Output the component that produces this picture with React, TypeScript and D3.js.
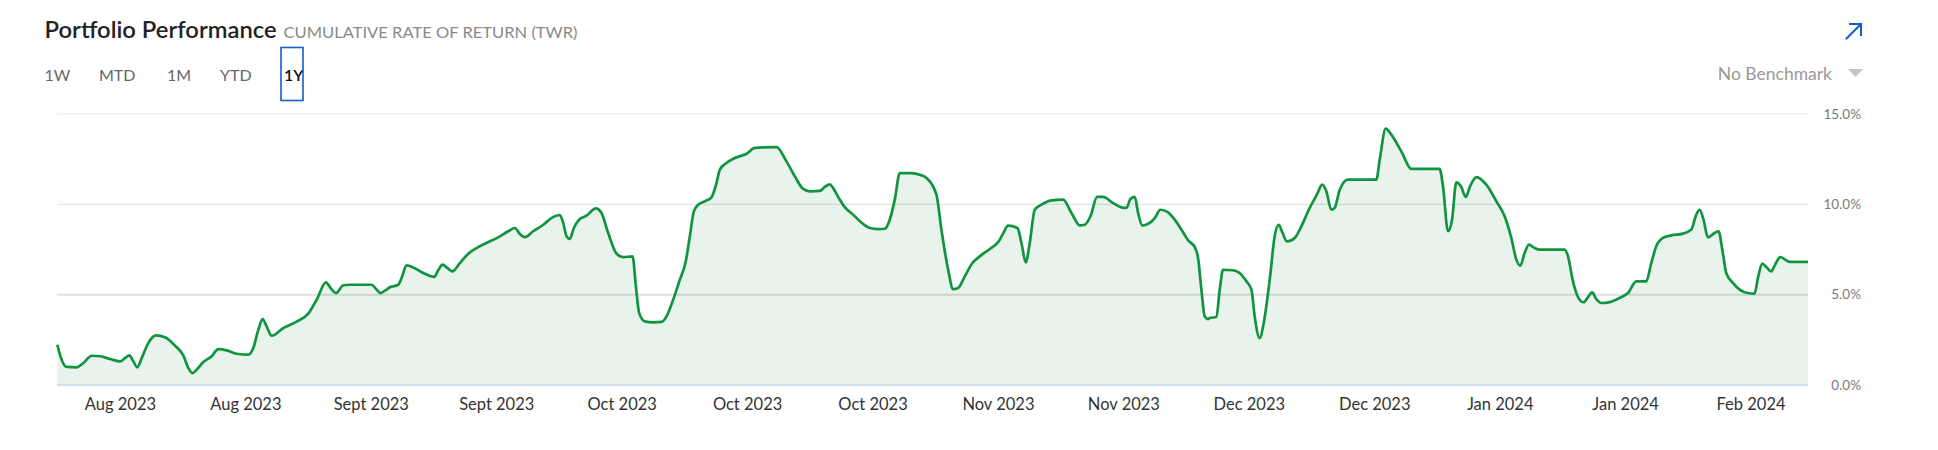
import React from 'react';
import * as d3 from 'd3';

// Day offsets from the start of the window (start ≈ 25 Jul 2023)
const days: number[] = [
  0.0, 0.52, 1.12, 2.32, 3.11, 4.11, 5.11, 6.3, 7.5, 8.1, 8.61, 9.09, 9.57, 10.09, 10.88, 11.8, 12.88, 14.07, 15.07, 15.67,
  16.14, 16.66, 17.46, 18.46, 19.25, 20.25, 21.45, 22.84, 23.44, 24.04, 24.55, 25.03, 25.63, 27.02, 28.62, 30.01, 31.01, 32.13, 32.68, 33.32,
  34.2, 35.0, 37.58, 38.18, 38.66, 39.18, 39.77, 40.77, 41.17, 41.77, 42.56, 43.76, 45.07, 45.55, 46.07, 46.63, 47.23, 48.14, 49.14, 50.14,
  51.33, 52.73, 53.92, 54.72, 55.32, 55.92, 56.91, 58.11, 59.1, 60.1, 60.5, 60.9, 61.29, 61.77, 62.41, 63.29, 64.4, 65.08, 65.88, 66.88,
  67.67, 68.8, 69.19, 69.58, 70.26, 71.26, 72.26, 72.85, 73.65, 74.45, 75.16, 75.64, 76.12, 76.64, 77.44, 78.23, 78.83, 79.23, 80.03, 81.02,
  82.42, 83.41, 86.0, 87.2, 88.2, 89.19, 89.99, 91.19, 91.78, 92.38, 92.78, 93.38, 94.17, 95.17, 96.37, 97.16, 98.16, 98.96, 99.55, 100.15,
  100.75, 102.15, 103.14, 103.94, 105.13, 105.73, 106.53, 107.13, 107.72, 108.52, 109.44, 110.31, 111.51, 112.59, 113.1, 113.7, 114.82, 115.3, 115.81, 116.29,
  116.89, 117.69, 118.88, 120.28, 121.28, 122.27, 122.87, 123.55, 124.35, 125.06, 126.26, 127.26, 127.85, 128.33, 128.85, 129.25, 129.76, 130.64, 131.24, 131.92,
  132.83, 133.63, 134.63, 135.22, 136.02, 136.42, 136.82, 137.21, 137.61, 137.81, 138.61, 139.01, 139.41, 140.6, 141.6, 142.2, 142.8, 143.19, 143.79, 144.27,
  144.99, 145.58, 146.06, 146.5, 147.06, 147.98, 148.77, 149.77, 150.57, 151.28, 151.76, 152.36, 152.76, 153.36, 154.35, 157.74, 158.14, 158.86, 159.53, 160.73,
  161.93, 165.31, 165.71, 166.31, 166.79, 167.3, 167.9, 168.42, 168.98, 169.7, 170.89, 172.09, 173.08, 173.88, 174.48, 174.96, 175.47, 175.99, 176.67, 177.27,
  180.26, 180.66, 181.25, 182.05, 182.53, 183.05, 183.56, 184.04, 184.64, 185.64, 186.83, 187.83, 188.82, 190.02, 190.62, 191.21, 192.01, 193.01, 194.4, 195.4,
  196.0, 196.4, 196.87, 197.39, 198.19, 198.67, 199.11, 199.58, 200.38, 201.18, 202.17, 202.97, 203.37, 203.89, 204.37, 204.97, 205.37, 206.05, 207.17, 209.36,
];

// Cumulative rate of return (TWR), %
const returns: number[] = [
  2.23, 1.4, 1.0, 0.98, 1.22, 1.62, 1.59, 1.44, 1.31, 1.49, 1.64, 1.31, 0.98, 1.49, 2.32, 2.75, 2.64, 2.18, 1.64, 0.94,
  0.66, 0.85, 1.27, 1.59, 1.99, 1.92, 1.73, 1.68, 2.05, 3.06, 3.65, 3.25, 2.73, 3.15, 3.51, 3.95, 4.72, 5.68, 5.37, 5.09,
  5.52, 5.55, 5.55, 5.28, 5.09, 5.22, 5.41, 5.55, 5.92, 6.62, 6.51, 6.2, 5.98, 6.35, 6.66, 6.48, 6.29, 6.75, 7.27, 7.58,
  7.86, 8.17, 8.51, 8.69, 8.36, 8.19, 8.51, 8.87, 9.24, 9.41, 8.97, 8.23, 8.08, 8.69, 9.15, 9.37, 9.78, 9.52, 8.41, 7.27,
  7.08, 7.12, 5.46, 3.99, 3.52, 3.47, 3.49, 3.8, 4.72, 5.83, 6.85, 8.23, 9.61, 9.98, 10.17, 10.39, 11.18, 11.92, 12.29, 12.56,
  12.8, 13.12, 13.17, 12.38, 11.55, 10.85, 10.72, 10.74, 10.96, 11.11, 10.9, 10.41, 9.85, 9.43, 8.91, 8.69, 8.63, 8.65, 9.15, 10.26,
  11.73, 11.73, 11.64, 11.46, 10.54, 8.6, 6.38, 5.31, 5.37, 6.01, 6.75, 7.12, 7.53, 7.95, 8.38, 8.82, 8.69, 7.86, 6.79, 7.86,
  9.7, 9.98, 10.22, 10.26, 9.52, 8.84, 8.87, 9.34, 10.41, 10.41, 10.07, 9.83, 9.8, 10.3, 10.41, 9.52, 8.82, 8.97, 9.24, 9.7,
  9.56, 9.15, 8.45, 8.01, 7.64, 7.03, 5.28, 3.8, 3.65, 3.71, 3.76, 5.28, 6.38, 6.35, 6.11, 5.74, 5.28, 3.8, 2.6, 3.43,
  5.83, 8.23, 8.87, 8.45, 7.95, 8.14, 8.78, 9.8, 10.48, 11.09, 10.72, 9.7, 9.8, 10.81, 11.37, 11.37, 12.47, 14.19, 13.86, 12.93,
  11.96, 11.96, 11.0, 8.51, 9.15, 11.22, 10.96, 10.41, 11.03, 11.51, 11.09, 10.17, 9.34, 8.14, 6.94, 6.61, 7.31, 7.77, 7.58, 7.49,
  7.49, 7.12, 5.74, 4.72, 4.58, 4.87, 5.13, 4.76, 4.54, 4.59, 4.82, 5.09, 5.74, 5.74, 6.75, 7.68, 8.14, 8.28, 8.38, 8.6,
  9.43, 9.7, 9.15, 8.17, 8.41, 8.51, 7.49, 6.2, 5.65, 5.28, 5.09, 5.06, 5.92, 6.72, 6.53, 6.29, 6.61, 7.08, 6.81, 6.81,
];

const tickDays: number[] = [7.55, 22.55, 37.55, 52.55, 67.55, 82.55, 97.55, 112.55, 127.55, 142.55, 157.55, 172.55, 187.55, 202.55];
const tickLabels: string[] = [
  'Aug 2023', 'Aug 2023', 'Sept 2023', 'Sept 2023', 'Oct 2023', 'Oct 2023', 'Oct 2023',
  'Nov 2023', 'Nov 2023', 'Dec 2023', 'Dec 2023', 'Jan 2024', 'Jan 2024', 'Feb 2024',
];
const yTicks: number[] = [0, 5, 10, 15];
const tabs: string[] = ['1W', 'MTD', '1M', 'YTD', '1Y'];
const activeTab = '1Y';

const FONT = 'Lato, "Open Sans", sans-serif';

export default function App() {
  const W = 1938;
  const H = 450;
  const left = 57.3;
  const right = 1808;
  const x = d3.scaleLinear().domain([0, 209.36]).range([left, right]);
  const y = d3.scaleLinear().domain([0, 15]).range([385, 114]);

  const pts = days.map((d, i) => [d, returns[i]] as [number, number]);
  const line = d3
    .line<[number, number]>()
    .x((d) => x(d[0]))
    .y((d) => y(d[1]))
    .curve(d3.curveMonotoneX);
  const area = d3
    .area<[number, number]>()
    .x((d) => x(d[0]))
    .y0(y(0))
    .y1((d) => y(d[1]))
    .curve(d3.curveMonotoneX);

  const tabX = [44.6, 99, 167, 220, 284];

  return (
    <svg
      width={W}
      height={H}
      style={{ position: 'absolute', left: 0, top: 0, background: '#fff' }}
      fontFamily={FONT}
    >
      {/* Header */}
      <text x={44.6} y={38.3} fontSize={23} fontWeight={600} fill="#222" textLength={232} lengthAdjust="spacingAndGlyphs">
        Portfolio Performance
      </text>
      <text x={283.5} y={38.3} fontSize={16} fill="#8a8a8a" textLength={294} lengthAdjust="spacingAndGlyphs">
        CUMULATIVE RATE OF RETURN (TWR)
      </text>
      {tabs.map((t, i) => (
        <text
          key={t}
          x={tabX[i]}
          y={80.5}
          fontSize={16}
          fill={t === activeTab ? '#111' : '#666'}
          fontWeight={t === activeTab ? 600 : 400}
        >
          {t}
        </text>
      ))}
      <rect x={281} y={47.5} width={22} height={53} fill="none" stroke="#1a5ccc" strokeWidth={1.6} />

      {/* Expand arrow */}
      <g stroke="#1a5ccc" strokeWidth={2} fill="none" strokeLinecap="square">
        <line x1={1846.5} y1={38.5} x2={1861} y2={24} />
        <polyline points="1850,24 1861,24 1861,35" />
      </g>

      {/* Benchmark selector */}
      <text x={1832} y={80} fontSize={17.5} fill="#999" textAnchor="end">
        No Benchmark
      </text>
      <polygon points="1848,69 1863,69 1855.5,77" fill="#c4c4c4" />

      {/* Area + line */}
      <path d={area(pts) || ''} fill="#e8f3eb" />
      {yTicks.filter((t) => t > 0).map((t) => (
        <line
          key={t}
          x1={left}
          x2={right}
          y1={y(t)}
          y2={y(t)}
          stroke="#000"
          strokeOpacity={t === 5 ? 0.12 : 0.1}
          strokeWidth={t === 5 ? 2 : 1.2}
        />
      ))}
      <line x1={left} x2={right} y1={y(0)} y2={y(0)} stroke="#c9d8ec" strokeWidth={1.5} />
      <path d={line(pts) || ''} fill="none" stroke="#119440" strokeWidth={2.7} strokeLinejoin="round" />

      {/* Y axis labels */}
      {yTicks.map((t) => (
        <text key={t} x={1861} y={y(t)} dy="0.35em" fontSize={13.5} fill="#7a7a7a" textAnchor="end">
          {d3.format('.1f')(t) + '%'}
        </text>
      ))}

      {/* X axis labels */}
      {tickDays.map((d, i) => (
        <text key={i} x={x(d)} y={409.5} fontSize={16.5} fill="#333" textAnchor="middle">
          {tickLabels[i]}
        </text>
      ))}
    </svg>
  );
}
